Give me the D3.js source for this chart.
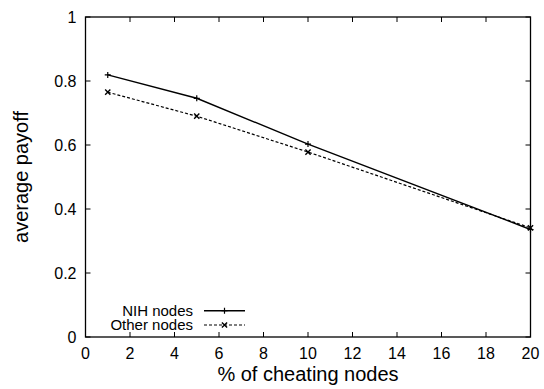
<!DOCTYPE html>
<html><head><meta charset="utf-8">
<script src="https://cdn.jsdelivr.net/npm/d3@7"></script>
<style>body{margin:0;background:#fff}svg{display:block}text{font-family:"Liberation Sans",Arial,sans-serif;fill:#000}</style>
</head><body><svg id="c" width="544" height="389"></svg>
<script>
const xValues = [1, 5, 10, 20];
const nihValues = [0.819, 0.746, 0.603, 0.336];
const otherValues = [0.765, 0.690, 0.578, 0.341];
const xTicks = [0, 2, 4, 6, 8, 10, 12, 14, 16, 18, 20];
const yTicks = [0, 0.2, 0.4, 0.6, 0.8, 1];
const seriesNames = ["NIH nodes", "Other nodes"];

const svg = d3.select("#c");
const L = 85.5, R = 530.5, T = 17, B = 337;
const x = d3.scaleLinear().domain([0, 20]).range([L, R]);
const y = d3.scaleLinear().domain([0, 1]).range([B, T]);
const tk = 5;

const g = svg.append("g");
xTicks.forEach(v => {
  g.append("line").attr("x1", x(v)).attr("x2", x(v)).attr("y1", B).attr("y2", B - tk).attr("stroke", "#000");
  g.append("line").attr("x1", x(v)).attr("x2", x(v)).attr("y1", T).attr("y2", T + tk).attr("stroke", "#000");
  g.append("text").attr("x", x(v)).attr("y", 358.5).attr("text-anchor", "middle").attr("font-size", 16).text(v);
});
yTicks.forEach(v => {
  g.append("line").attr("x1", L).attr("x2", L + tk).attr("y1", y(v)).attr("y2", y(v)).attr("stroke", "#000");
  g.append("line").attr("x1", R).attr("x2", R - tk).attr("y1", y(v)).attr("y2", y(v)).attr("stroke", "#000");
  g.append("text").attr("x", 76.5).attr("y", y(v) + 5.7).attr("text-anchor", "end").attr("font-size", 16).text(v);
});
g.append("rect").attr("x", L).attr("y", T).attr("width", R - L).attr("height", B - T)
  .attr("fill", "none").attr("stroke", "#000").attr("stroke-width", 1.3);

const line = d3.line().x(d => x(d[0])).y(d => y(d[1]));
const nih = xValues.map((v, i) => [v, nihValues[i]]);
const oth = xValues.map((v, i) => [v, otherValues[i]]);
g.append("path").datum(nih).attr("d", line).attr("fill", "none").attr("stroke", "#000").attr("stroke-width", 1.4);
g.append("path").datum(oth).attr("d", line).attr("fill", "none").attr("stroke", "#000").attr("stroke-width", 1.2).attr("stroke-dasharray", "3,2");

function plus(px, py) {
  const s = 3;
  g.append("path").attr("d", `M${px - s},${py}H${px + s}M${px},${py - s}V${py + s}`).attr("stroke", "#000").attr("stroke-width", 1.2);
}
function cross(px, py) {
  const s = 2.6;
  g.append("path").attr("d", `M${px - s},${py - s}L${px + s},${py + s}M${px - s},${py + s}L${px + s},${py - s}`).attr("stroke", "#000").attr("stroke-width", 1.4);
}
nih.forEach(d => plus(x(d[0]), y(d[1])));
oth.forEach(d => cross(x(d[0]), y(d[1])));

const ly = [310.7, 325];
seriesNames.forEach((n, i) => {
  g.append("text").attr("x", 193).attr("y", ly[i] + 5).attr("text-anchor", "end").attr("font-size", 15).text(n);
  const ln = g.append("line").attr("x1", 204).attr("x2", 245).attr("y1", ly[i]).attr("y2", ly[i]).attr("stroke", "#000");
  if (i === 0) { ln.attr("stroke-width", 1.4); plus(224.5, ly[i]); }
  else { ln.attr("stroke-width", 1.2).attr("stroke-dasharray", "3,2"); cross(224.5, ly[i]); }
});

svg.append("text").attr("x", 308).attr("y", 381).attr("text-anchor", "middle").attr("font-size", 20).text("% of cheating nodes");
svg.append("text").attr("transform", "translate(28,177) rotate(-90)").attr("text-anchor", "middle").attr("font-size", 20).text("average payoff");
</script></body></html>
